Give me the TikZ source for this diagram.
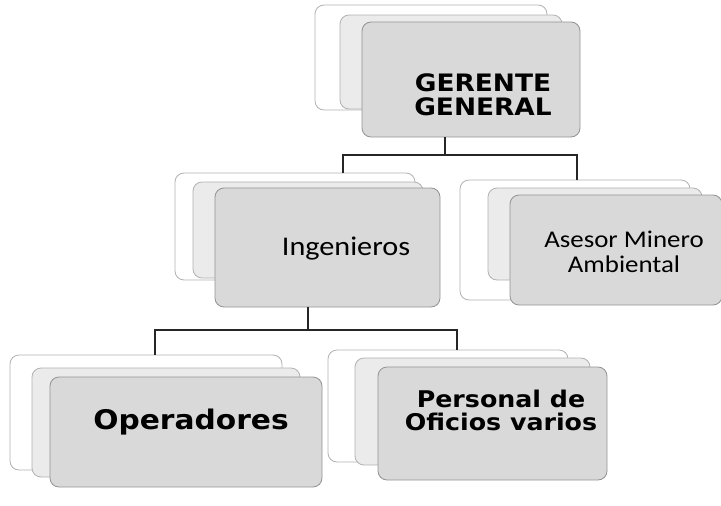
\documentclass[tikz,border=0pt]{standalone}
\usepackage{fontspec}
\newfontfamily\cardbold[FakeStretch=1.1]{DejaVu Sans}
\newfontfamily\cardplain[FakeStretch=1.12]{Carlito}
\usetikzlibrary{positioning}
\tikzset{every node/.append style={transform shape=false}}
\tikzset{card/.style={rectangle, rounded corners=9pt, draw=gray!60,
    line width=.8pt, inner sep=0pt}}
\tikzset{card back/.style={card, fill=white}}
\tikzset{card mid/.style={card, fill=gray!16}}
\tikzset{card front/.style={card, fill=gray!30, draw=gray!85}}
\tikzset{link/.style={draw=black!85, line width=1.1pt}}

\begin{document}
\begin{tikzpicture}[x=1pt,y=-1pt]
  \useasboundingbox (0,0) rectangle (721,506);

  % gerente general
  \node[card back, minimum width=232, minimum height=105] (gerente back) at (431,57.5) {};
  \node[card mid, minimum width=222, minimum height=94] (gerente mid) at (451,62) {};
  \node[card front, minimum width=218, minimum height=115] (gerente front) at (471,79.5) {};
  \node[align=center, font=\cardbold\bfseries\fontsize{24}{24}\selectfont]
    (gerente text) at (483,95) {GERENTE\\GENERAL};

  % ingenieros
  \node[card back, minimum width=240, minimum height=107] (ingenieros back) at (295,226.5) {};
  \node[card mid, minimum width=230, minimum height=96] (ingenieros mid) at (308,230) {};
  \node[card front, minimum width=225, minimum height=119] (ingenieros front) at (327.5,247.5) {};
  \node[font=\cardplain\fontsize{27}{30}\selectfont]
    (ingenieros text) at (346,249) {Ingenieros};

  % asesor
  \node[card back, minimum width=230, minimum height=120] (asesor back) at (575,240) {};
  \node[card mid, minimum width=214, minimum height=92] (asesor mid) at (595,234) {};
  \node[card front, minimum width=212, minimum height=110] (asesor front) at (616,250) {};
  \node[align=center, font=\cardplain\fontsize{24}{25}\selectfont]
    (asesor text) at (624,252) {Asesor Minero\\Ambiental};

  % operadores
  \node[card back, minimum width=272, minimum height=115] (operadores back) at (146,412.5) {};
  \node[card mid, minimum width=268, minimum height=109] (operadores mid) at (166,422.5) {};
  \node[card front, minimum width=272, minimum height=110] (operadores front) at (186,432) {};
  \node[font=\cardbold\bfseries\fontsize{27}{30}\selectfont]
    (operadores text) at (191,422) {Operadores};

  % personal de oficios varios
  \node[card back, minimum width=240, minimum height=112] (personal back) at (448,406) {};
  \node[card mid, minimum width=235, minimum height=107] (personal mid) at (472.5,411.5) {};
  \node[card front, minimum width=229, minimum height=113] (personal front) at (492.5,423.5) {};
  \node[align=center, font=\cardbold\bfseries\fontsize{23}{23}\selectfont]
    (personal text) at (501,410) {Personal de\\Oficios varios};

  % lineas de mando
  \coordinate (bus1) at (445,155);
  \coordinate (bus1 left) at (343,155);
  \coordinate (bus1 right) at (577,155);
  \draw[link] (bus1 |- gerente front.south) -- (bus1);
  \draw[link] (bus1 left |- ingenieros back.north) |- (bus1 right)
    -- (bus1 right |- asesor back.north);

  \coordinate (bus2) at (308,330);
  \coordinate (bus2 left) at (155,330);
  \coordinate (bus2 right) at (457,330);
  \draw[link] (bus2 |- ingenieros front.south) -- (bus2);
  \draw[link] (bus2 left |- operadores back.north) |- (bus2 right)
    -- (bus2 right |- personal back.north);
\end{tikzpicture}
\end{document}
